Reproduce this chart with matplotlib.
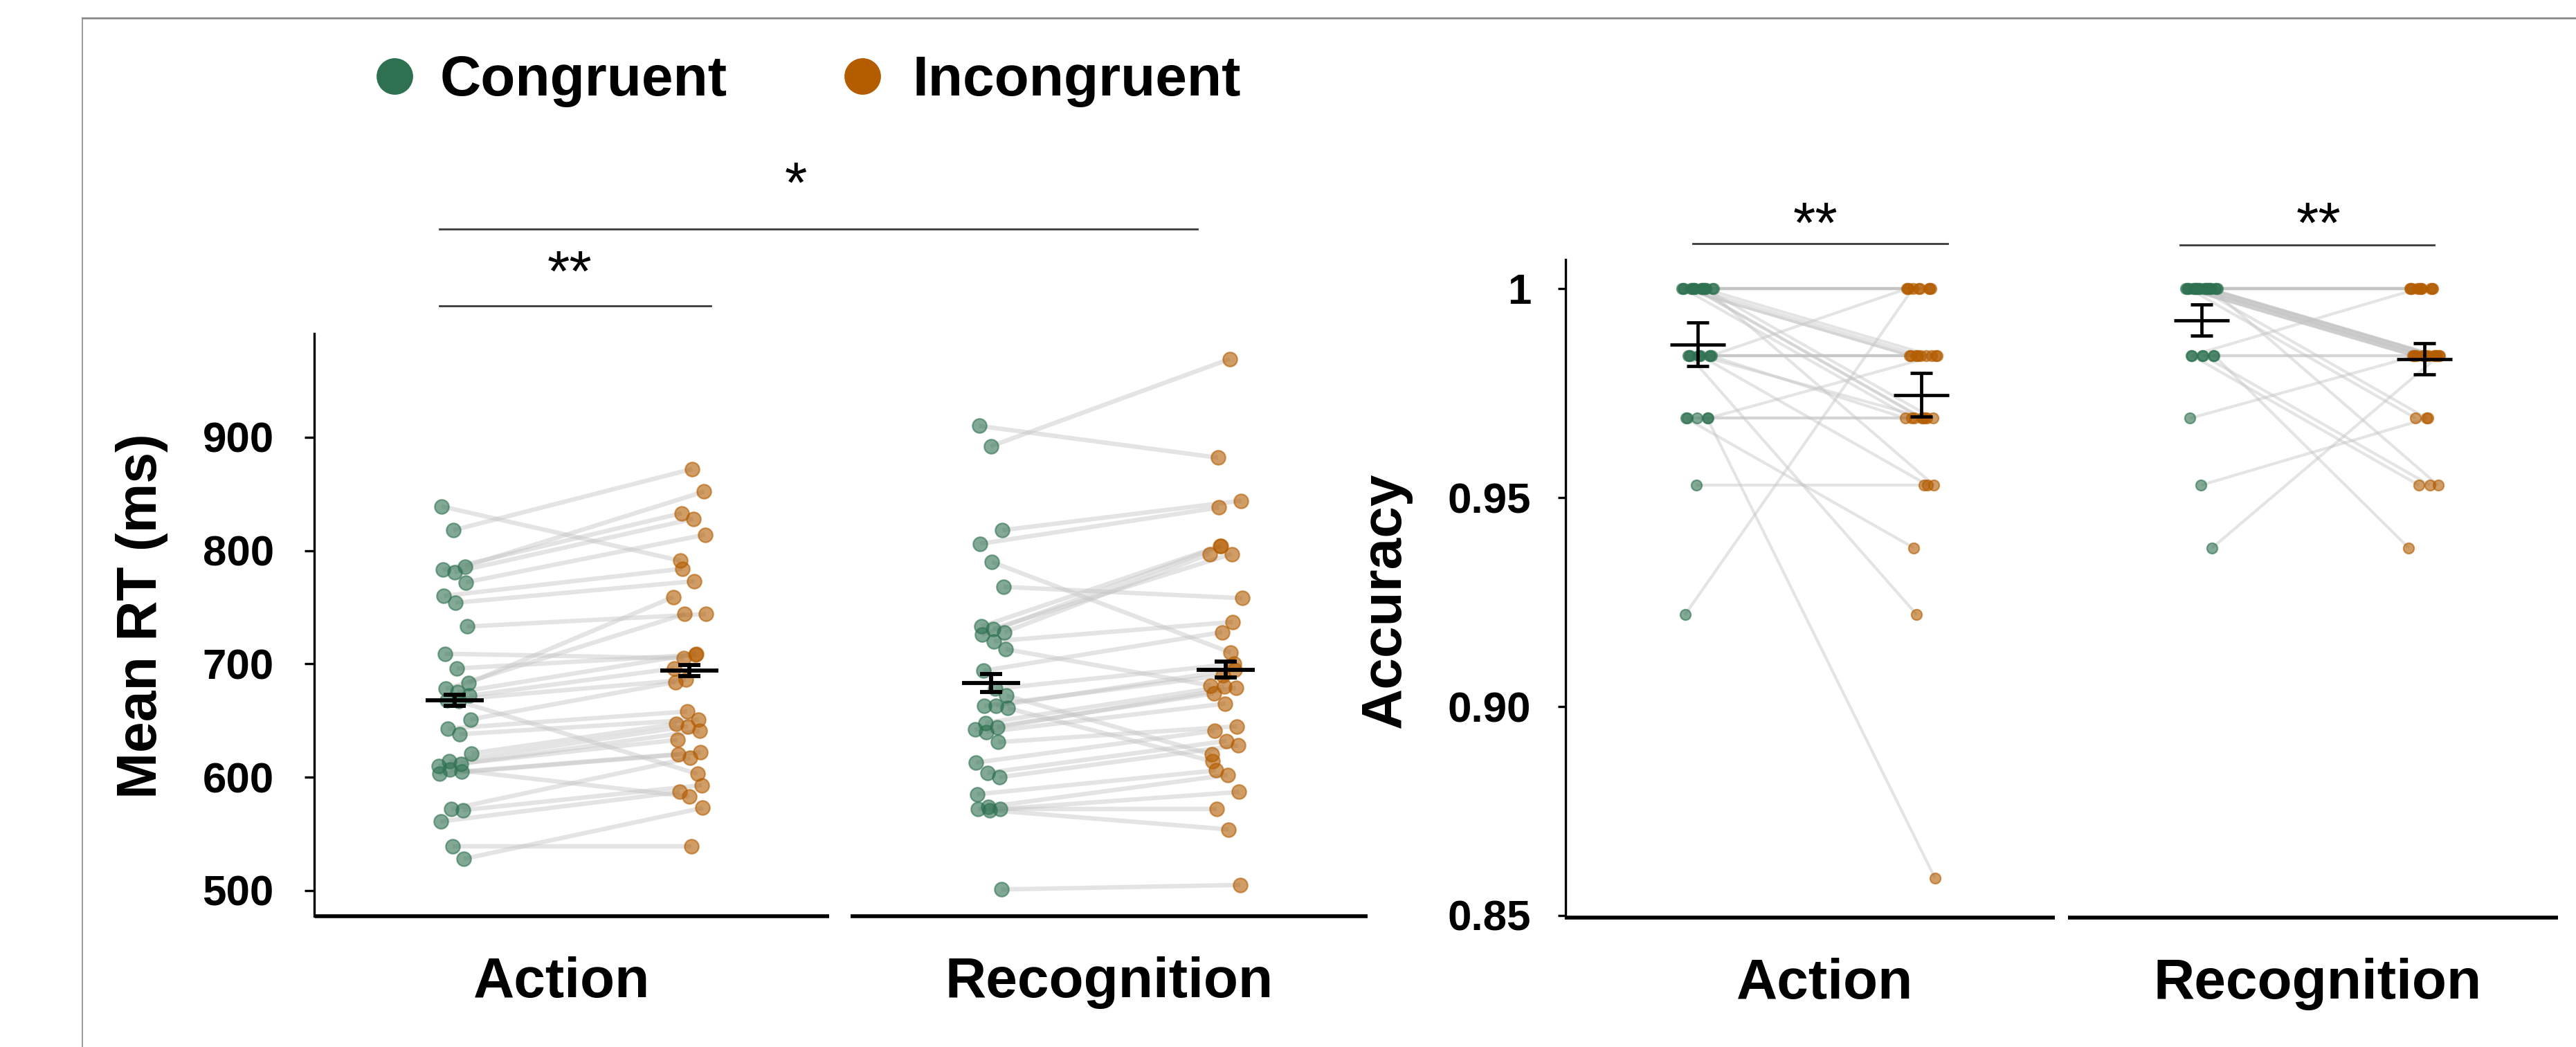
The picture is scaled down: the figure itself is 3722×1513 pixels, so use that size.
import matplotlib.pyplot as plt
import numpy as np
from matplotlib.lines import Line2D

plt.rcParams['font.family'] = ['Liberation Sans', 'DejaVu Sans']

W, H = 3722, 1513
DPI = 200

GREEN = '#2e7150'
ORANGE = '#b35c00'

conditions = ['Congruent', 'Incongruent']
tasks = ['Action', 'Recognition']

# mean RT (ms) per participant, paired congruent / incongruent
rt_action_con = [839, 818, 786, 783, 781, 772, 760, 754, 733, 709, 696, 683, 678, 675, 672, 668,
                 667, 651, 643, 638, 621, 614, 612, 610, 607, 605, 603, 572, 571, 561, 539, 528]
rt_action_inc = [791, 872, 852, 833, 828, 814, 784, 773, 744, 705, 708, 759, 744, 709, 696, 686,
                 603, 684, 658, 651, 647, 645, 641, 633, 583, 622, 620, 617, 593, 587, 539, 573]
rt_recog_con = [910, 892, 818, 806, 790, 768, 733, 731, 728, 726, 720, 713, 694, 678, 672, 663,
                663, 661, 648, 644, 642, 640, 631, 613, 604, 600, 585, 574, 572, 572, 571, 501]
rt_recog_inc = [882, 969, 844, 838, 710, 758, 804, 797, 797, 804, 737, 681, 728, 700, 620, 690,
                695, 614, 680, 679, 674, 665, 645, 641, 632, 628, 606, 602, 587, 572, 554, 505]
rt_means = [668, 694, 683, 695]
rt_sem = [5, 5, 8, 7]

# accuracy per participant, paired congruent / incongruent
acc_action_con = [0.922, 0.953, 0.969, 0.969, 0.969, 0.969, 0.969,
                  0.984, 0.984, 0.984, 0.984, 0.984, 0.984, 0.984, 0.984, 0.984,
                  1, 1, 1, 1, 1, 1, 1, 1, 1, 1, 1, 1, 1, 1, 1, 1]
acc_action_inc = [1, 0.953, 0.859, 0.938, 0.969, 0.984, 0.969,
                  0.984, 0.984, 0.984, 0.969, 0.969, 0.922, 0.953, 1, 0.984,
                  1, 1, 1, 1, 1, 1, 1, 0.984, 0.984, 0.984, 0.984, 0.969, 0.969, 0.969, 0.969, 0.953]
acc_recog_con = [0.969, 0.953, 0.938, 0.984, 0.984, 0.984, 0.984, 0.984, 0.984,
                 1, 1, 1, 1, 1, 1, 1, 1, 1, 1, 1, 1, 1, 1, 1, 1, 1, 1, 1, 1, 1, 1, 1]
acc_recog_inc = [0.984, 0.969, 0.984, 1, 0.984, 0.984, 0.953, 0.953, 0.938,
                 1, 1, 1, 1, 1, 1, 1, 1, 1, 0.984, 0.984, 0.984, 0.984, 0.984, 0.984,
                 0.984, 0.984, 0.984, 0.984, 0.984, 0.969, 0.969, 0.953]
acc_means = [0.9867, 0.9746, 0.9925, 0.9832]
acc_sem = [0.0052, 0.0052, 0.0037, 0.0037]


def fx(px):
    return px / W


def fy(py):
    return 1 - py / H


def spread(n, width, shift):
    # deterministic horizontal scatter of the dots
    k = (np.arange(n) * 11 + shift) % n
    return (k / (n - 1) * 2 - 1) * width


def draw_panel(ax, data, pos, means, sems, dot, lw_pair, lw_err, cap):
    for t in range(2):
        con, inc = np.array(data[2 * t]), np.array(data[2 * t + 1])
        xc = pos[2 * t] + spread(len(con), 0.07, 3 + t)
        xi = pos[2 * t + 1] + spread(len(inc), 0.07, 7 + t)
        for i in range(len(con)):
            ax.plot([xc[i], xi[i]], [con[i], inc[i]], color='#c4c4c4', alpha=0.45,
                    lw=lw_pair, solid_capstyle='butt', zorder=1)
        ax.scatter(xc, con, s=dot, color=GREEN, alpha=0.6, edgecolors=GREEN, linewidths=0.8, zorder=2)
        ax.scatter(xi, inc, s=dot, color=ORANGE, alpha=0.6, edgecolors=ORANGE, linewidths=0.8, zorder=2)
    for j in range(4):
        ax.errorbar(pos[j], means[j], yerr=sems[j], fmt='none', ecolor='black',
                    elinewidth=lw_err, capsize=cap, capthick=lw_err, zorder=4)
        ax.hlines(means[j], pos[j] - 0.124, pos[j] + 0.124, color='black', lw=lw_err, zorder=4)
    for s in ['top', 'right', 'bottom']:
        ax.spines[s].set_visible(False)
    ax.spines['left'].set_linewidth(1.2)
    ax.tick_params(axis='y', length=5, width=1.2, labelsize=22.3, pad=16)
    ax.tick_params(axis='x', length=0, labelsize=29.5, pad=21)
    for lab in ax.get_yticklabels() + ax.get_xticklabels():
        lab.set_fontweight('bold')


def bottom_segments(ax, segs):
    for a, b in segs:
        ax.plot([a, b], [0, 0], color='black', lw=2.0, transform=ax.get_xaxis_transform(),
                clip_on=False, solid_capstyle='butt', zorder=5)


def bracket(ax, x0, x1, y, label, ty):
    ax.plot([x0, x1], [y, y], color='#3a3a3a', lw=1.0, clip_on=False)
    ax.text(ty[0], ty[1], label, ha='center', va='baseline', fontsize=30, clip_on=False)


fig = plt.figure(figsize=(W / DPI, H / DPI), dpi=DPI)

# left panel: reaction time
ax1 = fig.add_axes([fx(454), fy(1324), fx(1976) - fx(454), (1324 - 482) / H])
pos1 = [0, 1, 2.286, 3.286]
draw_panel(ax1, [rt_action_con, rt_action_inc, rt_recog_con, rt_recog_inc], pos1,
           rt_means, rt_sem, 54, 2.3, 2.1, 5.8)
ax1.set_xlim(-0.60, 3.89)
ax1.set_ylim(477.4, 991.5)
ax1.set_yticks([500, 600, 700, 800, 900])
ax1.set_yticklabels(['500', '600', '700', '800', '900'], fontweight='bold')
ax1.set_xticks([0.454, 2.788])
ax1.set_xticklabels(tasks, fontweight='bold')
bottom_segments(ax1, [(-0.596, 1.596), (1.687, 3.89)])
bracket(ax1, -0.065, 1.089, 1016, '**', (0.49, 1029))
bracket(ax1, -0.065, 3.165, 1083.5, '*', (1.454, 1107))

# right panel: accuracy
ax2 = fig.add_axes([fx(2262), fy(1326), fx(3696) - fx(2262), (1326 - 375) / H])
pos2 = [0, 1, 2.254, 3.25]
draw_panel(ax2, [acc_action_con, acc_action_inc, acc_recog_con, acc_recog_inc], pos2,
           acc_means, acc_sem, 30, 1.5, 1.7, 5.6)
ax2.set_xlim(-0.591, 3.848)
ax2.set_ylim(0.8495, 1.007)
ax2.set_yticks([0.85, 0.90, 0.95, 1.0])
ax2.set_yticklabels(['0.85', '0.90', '0.95', '1'], fontweight='bold')
ax2.tick_params(axis='y', length=4, pad=14)
ax2.set_xticks([0.57, 2.774])
ax2.set_xticklabels(tasks, fontweight='bold')
bottom_segments(ax2, [(-0.594, 1.598), (1.656, 3.848)])
bracket(ax2, -0.022, 1.118, 1.01076, '**', (0.526, 1.0111))
bracket(ax2, 2.158, 3.294, 1.01043, '**', (2.777, 1.0111))

# axis titles
fig.text(fx(205), fy(890), 'Mean RT (ms)', rotation=90, ha='center', va='center',
         fontsize=29, fontweight='bold')
fig.text(fx(2002), fy(867), 'Accuracy', rotation=90, ha='center', va='center',
         fontsize=29.5, fontweight='bold')

# legend
for cx, tx, name, col in [(570, 636, conditions[0], GREEN), (1246, 1319, conditions[1], ORANGE)]:
    fig.add_artist(Line2D([fx(cx)], [fy(110)], marker='o', markersize=18, color=col,
                          transform=fig.transFigure))
    fig.text(fx(tx), fy(138), name, ha='left', va='baseline', fontsize=29.5, fontweight='bold')

# outer frame lines
fig.add_artist(Line2D([fx(119), 1], [fy(26), fy(26)], color='#8a8a8a', lw=1.0, transform=fig.transFigure))
fig.add_artist(Line2D([fx(119), fx(119)], [fy(26), 0], color='#8a8a8a', lw=0.6, transform=fig.transFigure))

fig.savefig('out.png', dpi=DPI)
